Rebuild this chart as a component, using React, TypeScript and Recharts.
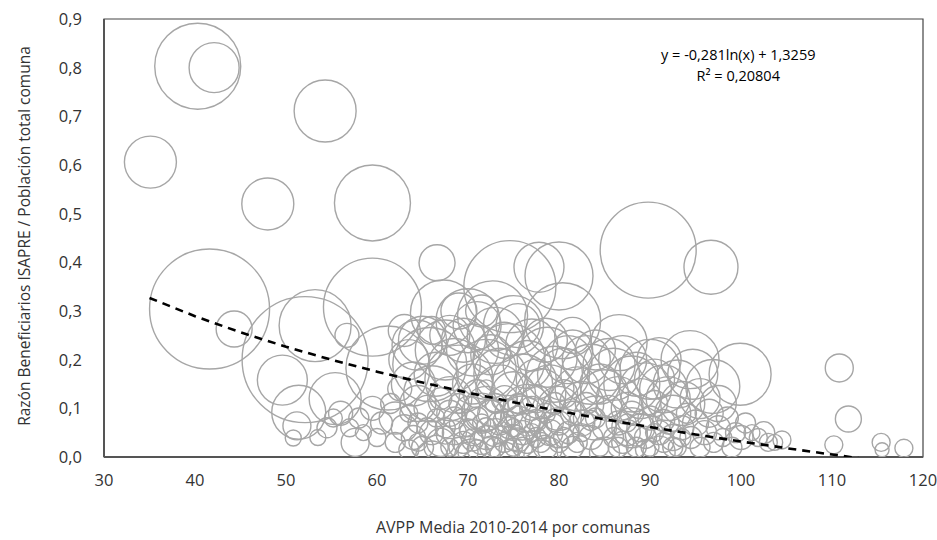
import React from "react";
import {
  ScatterChart,
  Scatter,
  XAxis,
  YAxis,
  ZAxis,
  ReferenceArea,
  ReferenceDot,
} from "recharts";

// AVPP media, razón beneficiarios ISAPRE, tamaño de la burbuja (población relativa)
const avpp: number[] = [
  40.3, 42.1, 54.3, 35.1, 48.0, 59.5, 66.6, 41.6, 44.3, 52.1, 53.2, 49.6, 51.4, 51.2, 50.8,
  55.4, 56.7, 59.5, 55.2, 57.6, 61.2, 65.8, 64.4, 67.3, 70.0, 74.6, 77.8, 80.0, 89.8, 96.7,
  80.4, 86.6, 78.7, 90.0, 94.4, 94.7, 99.9, 96.9, 93.6, 110.8, 111.8, 110.2, 115.4, 115.5, 117.9,
  103.7, 101.9, 101.2, 99.4,
  63.0, 64.0, 66.0, 67.5, 68.0, 69.0, 70.5, 71.5, 72.0, 73.0, 73.5, 74.5, 75.5, 76.0, 77.0,
  78.0, 79.5, 81.0, 82.0, 83.5, 85.0, 86.0, 88.0, 89.0, 91.5, 92.5, 84.0, 87.5, 69.0, 66.0,
  72.0, 76.5, 80.0, 81.5, 72.7, 75.0,
  58.0, 58.5, 59.5, 60.0, 60.5, 61.5, 62.0, 63.0, 63.5, 64.0, 62.5,
  64.5, 65.0, 65.5, 66.0, 66.5, 67.0, 67.0, 67.5, 68.0, 68.0,
  68.5, 69.0, 69.5, 69.5, 70.0, 70.0, 70.5, 71.0, 71.0, 71.5, 72.0, 72.0,
  72.5, 72.5, 73.0, 73.0, 73.5, 74.0, 74.0, 74.5, 74.5, 75.0, 75.0, 75.5, 75.5, 76.0,
  76.5, 76.5, 77.0, 77.5, 77.5, 78.0, 78.5, 78.5, 79.0, 79.5, 80.0, 80.0,
  80.5, 81.0, 81.5, 82.0, 82.5, 83.0, 83.5, 84.0, 84.5, 85.0,
  85.5, 86.0, 86.5, 87.0, 87.5, 88.0, 88.5, 89.0, 89.5, 90.0, 90.0,
  90.5, 91.0, 91.5, 92.0, 92.5, 93.0, 93.5, 94.0, 94.5, 95.0, 95.5, 96.0,
  96.5, 97.0, 97.5, 98.0, 98.5, 99.0, 100.0, 100.5, 102.5, 103.0, 104.5,
  66.0, 70.5, 74.0, 78.0, 85.0, 91.0,
  53.5, 54.5, 56.0, 57.0,
  63.5, 65.0, 66.5, 68.5, 69.5, 70.5, 71.0, 72.5, 73.5, 74.0, 75.0, 76.5, 77.5, 78.5, 79.0,
  80.5, 81.5, 82.5, 83.0, 84.5, 85.5, 86.5, 87.0, 88.5, 89.5, 90.5, 91.0, 92.0, 93.0, 95.5,
  97.5, 68.0, 71.5, 76.0, 80.0, 84.0, 88.0, 64.5, 62.0,
  63.5, 64.5, 65.5, 66.5, 67.5, 68.5, 69.0, 70.0, 70.5, 71.0, 71.5, 72.0, 73.0, 73.5, 74.0,
  74.5, 75.0, 75.5, 76.0, 77.0, 77.5, 78.0, 79.0, 79.5, 80.5, 81.5, 82.5, 83.5, 86.5, 87.5,
  88.5, 89.5, 90.5, 91.5, 92.5, 93.5,
];

const razon: number[] = [
  0.803, 0.8, 0.711, 0.606, 0.52, 0.522, 0.399, 0.304, 0.263, 0.2, 0.27, 0.158, 0.092, 0.064, 0.039,
  0.12, 0.25, 0.308, 0.08, 0.03, 0.183, 0.19, 0.23, 0.296, 0.28, 0.35, 0.39, 0.372, 0.425, 0.39,
  0.28, 0.235, 0.205, 0.18, 0.2, 0.17, 0.17, 0.145, 0.11, 0.183, 0.078, 0.025, 0.03, 0.015, 0.018,
  0.03, 0.04, 0.05, 0.05,
  0.26, 0.15, 0.13, 0.22, 0.25, 0.16, 0.22, 0.3, 0.18, 0.25, 0.14, 0.2, 0.27, 0.15, 0.23,
  0.13, 0.17, 0.2, 0.14, 0.17, 0.13, 0.17, 0.15, 0.12, 0.14, 0.09, 0.22, 0.1, 0.3, 0.26,
  0.1, 0.1, 0.1, 0.25, 0.29, 0.27,
  0.08, 0.05, 0.1, 0.04, 0.07, 0.11, 0.03, 0.06, 0.09, 0.04, 0.14,
  0.07, 0.02, 0.1, 0.05, 0.08, 0.03, 0.12, 0.06, 0.09, 0.02,
  0.05, 0.11, 0.03, 0.07, 0.1, 0.01, 0.05, 0.08, 0.13, 0.03, 0.06, 0.14,
  0.09, 0.02, 0.05, 0.11, 0.07, 0.03, 0.12, 0.06, 0.09, 0.02, 0.04, 0.08, 0.11, 0.05,
  0.03, 0.07, 0.1, 0.04, 0.12, 0.06, 0.02, 0.09, 0.05, 0.11, 0.03, 0.07,
  0.13, 0.05, 0.09, 0.03, 0.07, 0.11, 0.04, 0.08, 0.02, 0.06,
  0.1, 0.04, 0.07, 0.03, 0.05, 0.09, 0.02, 0.06, 0.04, 0.08, 0.02,
  0.11, 0.05, 0.03, 0.07, 0.04, 0.02, 0.06, 0.09, 0.04, 0.07, 0.02, 0.05,
  0.09, 0.03, 0.06, 0.04, 0.08, 0.02, 0.04, 0.07, 0.05, 0.03, 0.035,
  0.0, 0.0, 0.0, 0.0, 0.01, 0.01,
  0.04, 0.06, 0.09, 0.06,
  0.2, 0.24, 0.17, 0.19, 0.24, 0.15, 0.27, 0.21, 0.17, 0.24, 0.13, 0.19, 0.16, 0.24, 0.14,
  0.17, 0.22, 0.11, 0.2, 0.15, 0.19, 0.12, 0.2, 0.17, 0.14, 0.16, 0.2, 0.12, 0.15, 0.12,
  0.11, 0.12, 0.09, 0.08, 0.06, 0.08, 0.06, 0.11, 0.08,
  0.015, 0.03, 0.06, 0.02, 0.045, 0.08, 0.02, 0.06, 0.035, 0.015, 0.07, 0.04, 0.02, 0.045, 0.075,
  0.015, 0.06, 0.035, 0.02, 0.05, 0.075, 0.03, 0.015, 0.07, 0.04, 0.02, 0.05, 0.075, 0.02, 0.07,
  0.045, 0.015, 0.05, 0.075, 0.02, 0.04,
];

const tamano: number[] = [
  1849, 625, 961, 676, 676, 1444, 324, 3600, 324, 3969, 1296, 625, 729, 196, 64,
  676, 144, 2401, 81, 196, 1764, 1369, 625, 1089, 1024, 2116, 625, 1156, 2304, 729,
  1444, 784, 900, 900, 841, 625, 961, 729, 484, 196, 169, 81, 81, 49, 81,
  64, 81, 64, 100,
  256, 484, 784, 900, 400, 1156, 676, 256, 900, 784, 576, 1296, 484, 900, 676,
  625, 784, 576, 484, 900, 576, 676, 784, 400, 576, 324, 400, 256, 324, 196,
  484, 576, 484, 324, 1225, 900,
  100, 64, 144, 81, 121, 100, 100, 169, 81, 144, 144,
  100, 121, 169, 144, 81, 196, 121, 100, 169, 81,
  144, 100, 121, 196, 144, 100, 169, 121, 196, 144, 100, 81,
  169, 121, 196, 100, 144, 100, 169, 121, 196, 81, 169, 144, 100, 144,
  121, 169, 144, 100, 196, 121, 144, 100, 169, 121, 100, 144,
  196, 121, 144, 100, 169, 121, 144, 100, 81, 144,
  169, 100, 144, 121, 169, 144, 100, 196, 121, 144, 81,
  169, 144, 100, 121, 169, 81, 144, 100, 121, 169, 100, 144,
  196, 100, 144, 81, 121, 100, 144, 100, 121, 81, 81,
  256, 324, 225, 289, 225, 256,
  64, 100, 144, 81,
  400, 576, 484, 676, 484, 400, 576, 400, 676, 324, 484, 576, 400, 484, 576,
  676, 400, 484, 576, 400, 676, 484, 576, 484, 676, 400, 484, 484, 576, 400,
  324, 484, 400, 484, 400, 484, 400, 324, 256,
  100, 81, 100, 144, 81, 121, 100, 81, 121, 100, 81, 144, 100, 81, 121,
  100, 81, 144, 100, 81, 121, 100, 144, 81, 100, 121, 81, 100, 100, 81,
  121, 100, 81, 121, 100, 81,
];

const xTicks = [30, 40, 50, 60, 70, 80, 90, 100, 110, 120];
const yTicks = [0, 0.1, 0.2, 0.3, 0.4, 0.5, 0.6, 0.7, 0.8, 0.9];

// Línea de tendencia logarítmica mostrada en el gráfico
const TREND_A = -0.281;
const TREND_B = 1.3259;
const trendX = [35, 40, 45, 50, 55, 60, 65, 70, 75, 80, 85, 90, 95, 100, 105, 110, 113];

const bubbles = avpp.map((x, i) => ({ x, y: razon[i], z: tamano[i] }));
const trend = trendX.map((x) => ({ x, y: TREND_A * Math.log(x) + TREND_B }));

const FONT = "'Open Sans', sans-serif";
const TEXT = "#333";

const App = () => {
  return (
    <div style={{ position: "absolute", left: 0, top: 0, width: 937, height: 540, background: "#fff" }}>
      <ScatterChart
        width={937}
        height={540}
        margin={{ top: 19, right: 14, bottom: 0, left: 0 }}
      >
        <XAxis
          type='number'
          dataKey='x'
          domain={[30, 120]}
          ticks={xTicks}
          allowDataOverflow
          tickLine={false}
          tickSize={0}
          tickMargin={17}
          height={83}
          axisLine={{ stroke: "#555", strokeWidth: 2 }}
          tick={{ fill: TEXT, fontSize: 16.5, fontFamily: FONT }}
          label={{
            content: () => (
              <text x={513} y={527} textAnchor='middle' dominantBaseline='central' fill={TEXT} fontSize={16} fontFamily={FONT}>
                AVPP Media 2010-2014 por comunas
              </text>
            ),
          }}
        />
        <YAxis
          type='number'
          dataKey='y'
          domain={[0, 0.9]}
          ticks={yTicks}
          allowDataOverflow
          width={104}
          tickLine={false}
          tickSize={0}
          tickMargin={22}
          axisLine={{ stroke: "#555", strokeWidth: 2 }}
          tickFormatter={(v: number) => v.toFixed(1).replace(".", ",")}
          tick={{ fill: TEXT, fontSize: 16.5, fontFamily: FONT }}
          label={{
            content: () => (
              <text
                x={24}
                y={236}
                transform='rotate(-90 24 236)'
                textAnchor='middle'
                dominantBaseline='central'
                fill={TEXT}
                fontSize={15.5}
                fontFamily={FONT}
              >
                Razón Beneficiarios ISAPRE / Población total comuna
              </text>
            ),
          }}
        />
        <ZAxis type='number' dataKey='z' domain={[0, 4000]} range={[0, 4000 * Math.PI]} />
        <ReferenceArea x1={30} x2={120} y1={0} y2={0.9} fill='none' stroke='#444' strokeWidth={1.2} />
        <Scatter
          data={bubbles}
          fill='none'
          stroke='#a6a6a6'
          strokeWidth={1.4}
          isAnimationActive={false}
        />
        <Scatter
          data={trend}
          line={{ stroke: "#000", strokeWidth: 2.6, strokeDasharray: "8 6" }}
          shape={() => <g />}
          isAnimationActive={false}
        />
        <ReferenceDot
          x={99.7}
          y={0.826}
          r={0}
          label={{ value: "y = -0,281ln(x) + 1,3259", position: "center", fill: "#000", fontSize: 14.5, fontFamily: FONT }}
        />
        <ReferenceDot
          x={99.7}
          y={0.783}
          r={0}
          label={{ value: "R² = 0,20804", position: "center", fill: "#000", fontSize: 14.5, fontFamily: FONT }}
        />
      </ScatterChart>
    </div>
  );
};

export default App;
